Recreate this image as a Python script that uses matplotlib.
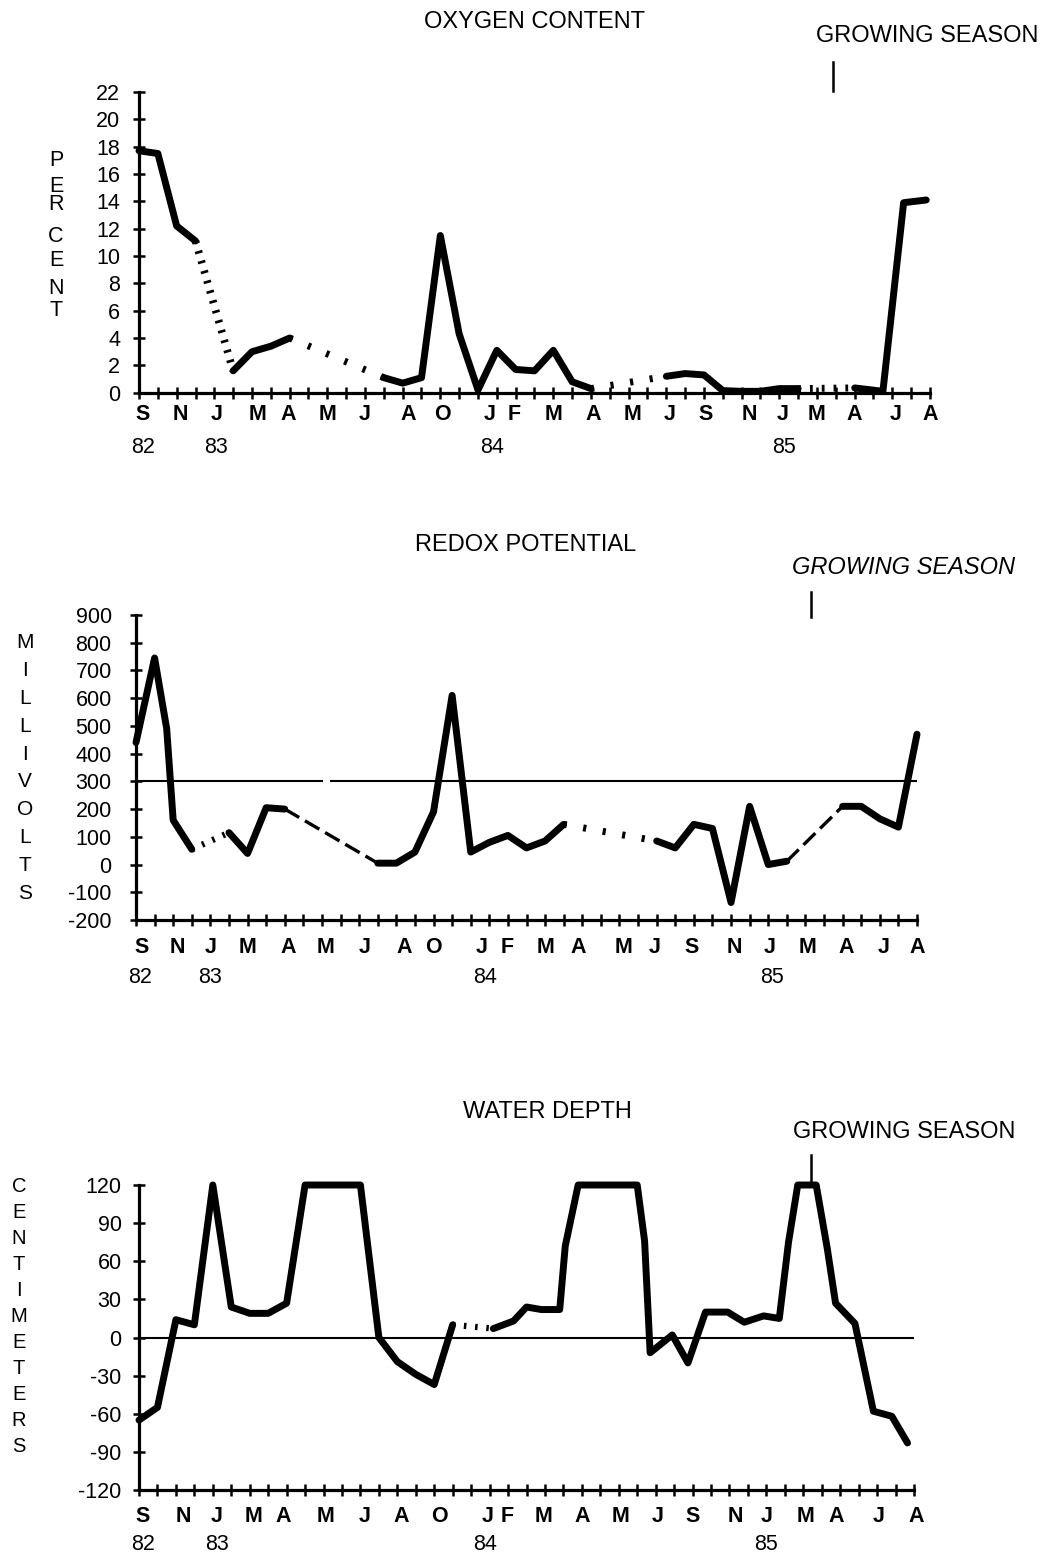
import matplotlib
matplotlib.use("Agg")
import matplotlib.pyplot as plt
from matplotlib.transforms import offset_copy

plt.rcParams['font.family'] = ['Liberation Sans', 'DejaVu Sans']

W, H, DPI = 1040, 1558, 100

# ---------------- data (x = sampling index along the time axis) ----------------
sample_ticks = list(range(43))

# Oxygen content (percent)
o2_x = [0, 1, 2, 3, 5, 6, 7, 8, 13, 14, 15, 16, 17, 18, 19, 20, 21, 22, 23, 24,
        28, 29, 30, 31, 32, 33, 34, 35, 38, 39.5, 40.6, 41.8]
o2_y = [17.7, 17.5, 12.2, 11.1, 1.6, 3.0, 3.4, 4.0, 1.1, 0.7, 1.1, 11.5, 4.3, 0.2,
        3.1, 1.7, 1.6, 3.1, 0.8, 0.3, 1.2, 1.4, 1.3, 0.15, 0.1, 0.1, 0.3, 0.3,
        0.35, 0.1, 13.9, 14.1]
o2_gap_from = [3, 8, 24, 35]          # x where an interpolated (dotted) stretch starts

# Redox potential (millivolts)
eh_x = [0, 1, 1.65, 2, 3, 5, 6, 7, 8, 13, 14, 15, 16, 17, 18, 19, 20, 21, 22, 23,
        28, 29, 30, 31, 32, 33, 34, 35, 38, 39, 40, 41, 42]
eh_y = [440, 745, 490, 160, 55, 115, 40, 205, 200, 5, 5, 45, 190, 610, 45, 80, 105,
        60, 85, 145, 85, 60, 145, 130, -137, 210, 0, 12, 210, 210, 165, 135, 470]
eh_gap_from = [3, 8, 23, 35]
eh_reference = 300

# Water depth (centimeters)
wd_x = [0, 1, 2, 3, 4, 5, 6, 7, 8, 9, 10, 11, 12, 13, 14, 15, 16, 17, 19.2, 20.3,
        21, 21.8, 22.8, 23.1, 23.8, 27, 27.4, 27.7, 28.9, 29.75, 30.7, 31.9, 32.8,
        33.85, 34.7, 35.2, 35.7, 36.7, 37.3, 37.75, 38.8, 39.8, 40.8, 41.65]
wd_y = [-65, -55, 14, 10, 120, 24, 19, 19, 27, 120, 120, 120, 120, 0, -19, -29, -37,
        10, 7, 13, 24, 22, 22, 72, 120, 120, 76, -12, 2, -20, 20, 20, 12, 17, 15, 75,
        120, 120, 70, 27, 11, -58, -62, -83]
wd_gap_from = [17]
wd_reference = 0

months = ['S', 'N', 'J', 'M', 'A', 'M', 'J', 'A', 'O', 'J', 'F', 'M', 'A', 'M', 'J',
          'S', 'N', 'J', 'M', 'A', 'J', 'A']
o2_month_pos = [0.2, 2.2, 4.1, 6.3, 7.9, 10.0, 12.0, 14.3, 16.1, 18.6, 19.9, 22.0,
                24.1, 26.2, 28.2, 30.1, 32.4, 34.2, 36.0, 38.0, 40.2, 42.0]
eh_month_pos = [0.3, 2.2, 4.0, 6.0, 8.2, 10.2, 12.3, 14.4, 16.0, 18.6, 19.95, 22.0,
                23.8, 26.2, 27.9, 29.9, 32.2, 34.1, 36.1, 38.2, 40.2, 42.0]
wd_month_pos = [0.2, 2.4, 4.2, 6.2, 7.8, 10.1, 12.25, 14.2, 16.3, 18.9, 19.95, 21.9,
                24.0, 26.1, 28.1, 30.0, 32.3, 34.0, 36.1, 37.8, 40.1, 42.1]
years = ['82', '83', '84', '85']
o2_year_pos = [0.2, 4.1, 18.75, 34.25]
eh_year_pos = [0.2, 4.0, 18.75, 34.2]
wd_year_pos = [0.2, 4.2, 18.75, 34.0]

o2_yticks = list(range(0, 23, 2))
eh_yticks = list(range(-200, 901, 100))
wd_yticks = list(range(-120, 121, 30))

# ---------------- figure ----------------
fig = plt.figure(figsize=(W / DPI, H / DPI), dpi=DPI)
fig.patch.set_facecolor('white')

TICK_FS = 15.5
MONTH_FS = 15.5
TITLE_FS = 17


def px_axes(x0, x1, ytop, ybot):
    return fig.add_axes([x0 / W, 1 - ybot / H, (x1 - x0) / W, (ybot - ytop) / H])


def ftext(x, y, s, **kw):
    kw.setdefault('ha', 'center')
    kw.setdefault('va', 'center')
    fig.text(x / W, 1 - y / H, s, **kw)


def style_axes(ax, yticks, ylim, ypad):
    ax.set_xlim(0, 42)
    ax.set_ylim(*ylim)
    for s in ('top', 'right'):
        ax.spines[s].set_visible(False)
    for s in ('left', 'bottom'):
        ax.spines[s].set_linewidth(2.3)
    ax.set_xticks(sample_ticks)
    ax.set_xticklabels([])
    ax.set_yticks(yticks)
    ax.set_yticklabels([str(v) for v in yticks])
    ax.tick_params(axis='x', direction='inout', length=8, width=1.8)
    ax.tick_params(axis='y', direction='inout', length=9, width=1.8,
                   labelsize=TICK_FS, pad=ypad)
    ax.patch.set_alpha(0)


def month_labels(ax, labels, pos, ylab, yyear, yrpos):
    tm = offset_copy(ax.get_xaxis_transform(), fig=fig, y=-ylab * 72 / DPI, units='points')
    ty = offset_copy(ax.get_xaxis_transform(), fig=fig, y=-yyear * 72 / DPI, units='points')
    for s, p in zip(labels, pos):
        ax.text(p, 0, s, transform=tm, ha='center', va='center', fontsize=MONTH_FS,
                fontweight='bold')
    for s, p in zip(years, yrpos):
        ax.text(p, 0, s, transform=ty, ha='center', va='center', fontsize=MONTH_FS)


def draw_series(ax, xs, ys, gap_from, gap_styles, lw=5.0):
    seg_x, seg_y = [xs[0]], [ys[0]]
    for i in range(1, len(xs)):
        if xs[i - 1] in gap_from:
            if len(seg_x) > 1:
                ax.plot(seg_x, seg_y, color='black', lw=lw, solid_joinstyle='round',
                        solid_capstyle='round', clip_on=False)
            gl, gd = gap_styles[gap_from.index(xs[i - 1])]
            ax.plot([xs[i - 1], xs[i]], [ys[i - 1], ys[i]], color='black', lw=gl,
                    linestyle=(0, gd), dash_capstyle='butt', clip_on=False)
            seg_x, seg_y = [xs[i]], [ys[i]]
        else:
            seg_x.append(xs[i])
            seg_y.append(ys[i])
    if len(seg_x) > 1:
        ax.plot(seg_x, seg_y, color='black', lw=lw, solid_joinstyle='round',
                solid_capstyle='round', clip_on=False)


TICKS = (5.0, (0.45, 2.4))
STEEP = (5.5, (0.35, 1.0))
DENSE = (5.0, (0.4, 1.3))
DASH = (2.4, (5, 2.0))
DOTS = (4.5, (0.4, 1.4))

# ---- Panel 1: oxygen ----
ax1 = px_axes(139, 930, 92, 392.7)
style_axes(ax1, o2_yticks, (0, 22), 9)
draw_series(ax1, o2_x, o2_y, o2_gap_from, [STEEP, TICKS, TICKS, DENSE])
month_labels(ax1, months, o2_month_pos, 22, 55, o2_year_pos)
ax1.plot([36.86, 36.86], [22.1, 24.2], color='black', lw=1.8, clip_on=False)
ftext(534, 22, 'OXYGEN CONTENT', fontsize=TITLE_FS)
ftext(927, 36, 'GROWING SEASON', fontsize=TITLE_FS)
for ch, yy in zip('PERCENT', [160, 186, 204, 237, 260, 288, 310]):
    ftext(56, yy, ch, fontsize=15.5)

# ---- Panel 2: redox ----
ax2 = px_axes(136, 917, 615, 920)
style_axes(ax2, eh_yticks, (-200, 900), 13)
ax2.hlines(eh_reference, 0, 10.05, color='black', lw=1.5)
ax2.hlines(eh_reference, 10.45, 42, color='black', lw=1.5)
draw_series(ax2, eh_x, eh_y, eh_gap_from, [DOTS, DASH, TICKS, DASH])
month_labels(ax2, months, eh_month_pos, 27, 57, eh_year_pos)
ax2.plot([36.3, 36.3], [891, 984], color='black', lw=1.8, clip_on=False)
ftext(526, 545, 'REDOX POTENTIAL', fontsize=TITLE_FS)
ftext(904, 567, 'GROWING SEASON', fontsize=TITLE_FS, style='italic')
for i, ch in enumerate('MILLIVOLTS'):
    ftext(25, 643 + i * 27.8, ch, fontsize=15)

# ---- Panel 3: water depth ----
ax3 = px_axes(139, 914, 1185, 1490)
style_axes(ax3, wd_yticks, (-120, 120), 8)
ax3.axhline(wd_reference, color='black', lw=1.5)
draw_series(ax3, wd_x, wd_y, wd_gap_from, [DOTS])
month_labels(ax3, months, wd_month_pos, 27, 55, wd_year_pos)
ax3.plot([36.4, 36.4], [120, 143.6], color='black', lw=1.8, clip_on=False)
ftext(547, 1112, 'WATER DEPTH', fontsize=TITLE_FS)
ftext(904, 1132, 'GROWING SEASON', fontsize=TITLE_FS)
for i, ch in enumerate('CENTIMETERS'):
    ftext(19, 1187 + i * 25.9, ch, fontsize=14.5)

fig.savefig('out.png', dpi=DPI, facecolor='white')
